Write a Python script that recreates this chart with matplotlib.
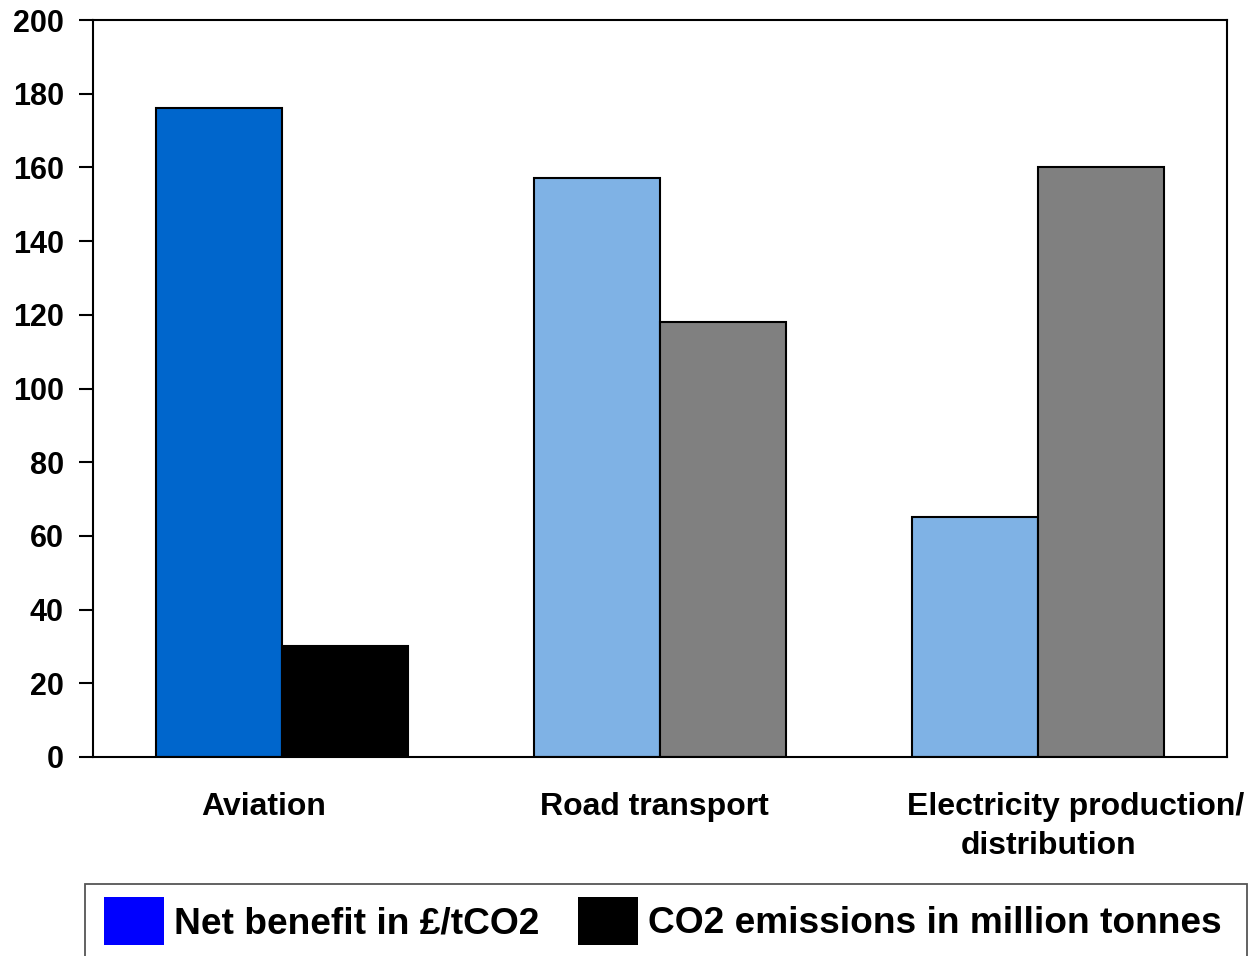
import matplotlib
matplotlib.use("Agg")
import matplotlib.pyplot as plt
from matplotlib.patches import Patch, Rectangle
import numpy as np

categories = ["Aviation", "Road transport", "Electricity production/\ndistribution"]
net_benefit = [176, 157, 65]          # £/tCO2
co2_emissions = [30, 118, 160]        # million tonnes
yticks = [0, 20, 40, 60, 80, 100, 120, 140, 160, 180, 200]
legend_labels = ["Net benefit in £/tCO2", "CO2 emissions in million tonnes"]

benefit_colors = ["#0066CC", "#7FB2E5", "#7FB2E5"]
emission_colors = ["#000000", "#808080", "#808080"]

plt.rcParams["font.family"] = ["Liberation Sans", "DejaVu Sans"]
plt.rcParams["font.weight"] = "bold"

W, H = 1250, 956
fig = plt.figure(figsize=(W / 100, H / 100), dpi=100)
ax = fig.add_axes([93 / W, 1 - 757 / H, (1227 - 93) / W, (757 - 20) / H])

x = np.arange(len(categories))
w = 1 / 3
ax.bar(x - w / 2, net_benefit, width=w, color=benefit_colors,
       edgecolor="black", linewidth=1.5)
ax.bar(x + w / 2, co2_emissions, width=w, color=emission_colors,
       edgecolor="black", linewidth=1.5)

ax.set_xlim(-0.5, 2.5)
ax.set_ylim(0, 200)
ax.set_yticks(yticks)
ax.set_yticklabels([str(t) for t in yticks], fontsize=22, fontweight="bold")
ax.tick_params(axis="y", direction="out", length=10, width=1.5, pad=11)
ax.set_xticks([])
for sp in ax.spines.values():
    sp.set_linewidth(1.5)

# category labels, each line placed on its own
line_pos = [[(264, "Aviation")],
            [(654, "Road transport")],
            [(1076, "Electricity production/"), (1049, "distribution")]]
for lines in line_pos:
    for i, (px, txt) in enumerate(lines):
        fig.text(px / W, 1 - (807 + i * 39) / H, txt, ha="center", va="center",
                 fontsize=23, fontweight="bold")

# legend with an open-bottomed frame
frame = Rectangle((85 / W, -0.05), (1247 - 85) / W, 0.05 + 1 - 884 / H,
                  transform=fig.transFigure, facecolor="white",
                  edgecolor="#555555", linewidth=1.3)
fig.patches.append(frame)

handles = [Patch(facecolor="#0000FF", edgecolor="none"),
           Patch(facecolor="#000000", edgecolor="none")]
leg = fig.legend(handles, legend_labels,
                 loc="center left", bbox_to_anchor=(104 / W, 1 - 921 / H),
                 ncol=2, prop={"weight": "bold", "size": 26.7},
                 frameon=False, handlelength=1.62, handleheight=1.65,
                 handletextpad=0.27, columnspacing=1.05,
                 borderpad=0, borderaxespad=0)

fig.savefig("out.png", dpi=100)
